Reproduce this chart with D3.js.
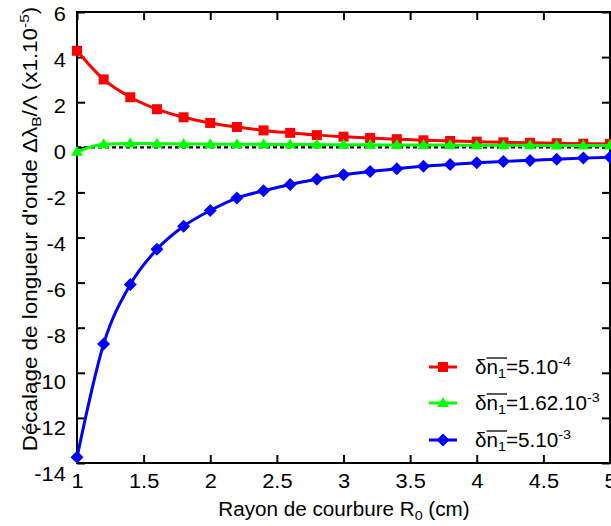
<!DOCTYPE html>
<html>
<head>
<meta charset="utf-8">
<script src="https://cdn.jsdelivr.net/npm/d3@7"></script>
<style>
  html, body { margin: 0; padding: 0; background: #fff; }
  svg { display: block; font-family: "Liberation Sans", Arial, sans-serif; }
</style>
</head>
<body>
<svg id="chart" width="611" height="526"></svg>
<script>
// Bending radius R0 (cm)
const radius = [1, 1.2, 1.4, 1.6, 1.8, 2, 2.2, 2.4, 2.6, 2.8, 3, 3.2, 3.4, 3.6, 3.8, 4, 4.2, 4.4, 4.6, 4.8, 5];

// Relative Bragg wavelength shift (x1e-5) for each index modulation
const shiftLow  = [4.28, 3.01, 2.22, 1.69, 1.33, 1.08, 0.9, 0.75, 0.64, 0.54, 0.47, 0.41, 0.36, 0.31, 0.28, 0.25, 0.22, 0.2, 0.18, 0.16, 0.15];
const shiftMid  = [-0.2, 0.14, 0.17, 0.16, 0.15, 0.14, 0.13, 0.13, 0.12, 0.12, 0.11, 0.11, 0.1, 0.1, 0.1, 0.09, 0.09, 0.09, 0.08, 0.08, 0.08];
const shiftHigh = [-13.75, -8.72, -6.08, -4.52, -3.5, -2.8, -2.25, -1.93, -1.65, -1.42, -1.22, -1.07, -0.95, -0.84, -0.76, -0.69, -0.63, -0.58, -0.53, -0.48, -0.44];

const seriesLabels = ["5.10", "1.62.10", "5.10"];
const seriesExponents = ["-4", "-3", "-3"];
const seriesColors = ["#ff0000", "#00ff00", "#0000ff"];
const seriesShapes = ["square", "triangle", "diamond"];

const xTicks = [1, 1.5, 2, 2.5, 3, 3.5, 4, 4.5, 5];
const yTicks = [-14, -12, -10, -8, -6, -4, -2, 0, 2, 4, 6];

const svg = d3.select("#chart");
const plotLeft = 77, plotRight = 610, plotTop = 12, plotBottom = 463;

const x = d3.scaleLinear().domain([1, 5]).range([plotLeft, plotRight]);
const y = d3.scaleLinear().domain([-14, 6]).range([plotBottom, plotTop]);
// the value labels of the left axis sit on a slightly taller ladder than the ticks
const yLabel = d3.scaleLinear().domain([-14, 6]).range([plotBottom + 11, plotTop + 2]);

const tickLen = 8;
const fontSize = 19.5;
const smallSize = 13.5;
const wide = 1.12;                     // lettering is set slightly extended
const plainNumber = d => String(d);   // plain hyphen for negatives

function styleAxis(g) {
  g.select(".domain").remove();
  g.selectAll(".tick line").attr("stroke", "#000").attr("stroke-width", 2);
  g.selectAll(".tick text").attr("font-size", fontSize).attr("fill", "#000")
    .attr("font-family", "Liberation Sans, Arial, sans-serif");
}

// Ticks point into the plot on all four sides
svg.append("g").attr("transform", `translate(0,${plotBottom})`)
  .call(d3.axisBottom(x).tickValues(xTicks).tickSizeInner(-tickLen).tickSizeOuter(0)
    .tickPadding(tickLen + 3).tickFormat(plainNumber))
  .call(styleAxis)
  .call(g => g.selectAll(".tick text").attr("transform", `scale(${wide},1)`));
svg.append("g").attr("transform", `translate(${plotLeft},0)`)
  .call(d3.axisLeft(y).tickValues(yTicks).tickSizeInner(-tickLen).tickSizeOuter(0).tickFormat(""))
  .call(styleAxis);
svg.append("g").attr("transform", `translate(${plotLeft},0)`)
  .call(d3.axisLeft(yLabel).tickValues(yTicks).tickSize(0).tickPadding(10).tickFormat(plainNumber))
  .call(styleAxis)
  .call(g => g.selectAll(".tick text").attr("transform", `scale(${wide},1)`));
svg.append("g").attr("transform", `translate(0,${plotTop})`)
  .call(d3.axisTop(x).tickValues(xTicks).tickSizeInner(-tickLen).tickSizeOuter(0).tickFormat(""))
  .call(styleAxis);
svg.append("g").attr("transform", `translate(${plotRight},0)`)
  .call(d3.axisRight(y).tickValues(yTicks).tickSizeInner(-tickLen).tickSizeOuter(0).tickFormat(""))
  .call(styleAxis);

// Zero reference line
svg.append("line")
  .attr("x1", x(1)).attr("x2", x(5)).attr("y1", y(0)).attr("y2", y(0))
  .attr("stroke", "#000").attr("stroke-width", 2.2).attr("stroke-dasharray", "4,3");

// Frame
svg.append("rect")
  .attr("x", plotLeft).attr("y", plotTop).attr("width", plotRight - plotLeft).attr("height", plotBottom - plotTop)
  .attr("fill", "none").attr("stroke", "#000").attr("stroke-width", 2);

// Marker shapes
function markerPath(shape) {
  if (shape === "square") return "M-5,-5H5V5H-5Z";
  if (shape === "triangle") return "M0,-6L6,4H-6Z";
  return "M0,-6.5L6.5,0L0,6.5L-6.5,0Z";
}

const line = d3.line().x(d => x(d[0])).y(d => y(d[1])).curve(d3.curveMonotoneX);

const allSeries = [shiftLow, shiftMid, shiftHigh];
allSeries.forEach((vals, i) => {
  const pts = radius.map((r, k) => [r, vals[k]]);
  const g = svg.append("g");
  g.append("path").datum(pts).attr("d", line)
    .attr("fill", "none").attr("stroke", seriesColors[i]).attr("stroke-width", 3);
  g.selectAll("path.mk").data(pts).join("path").attr("class", "mk")
    .attr("transform", d => `translate(${x(d[0])},${y(d[1])})`)
    .attr("d", markerPath(seriesShapes[i]))
    .attr("fill", seriesColors[i]);
});

// Legend
const legendX = 429, legendRows = [367, 403, 440];
seriesLabels.forEach((lab, i) => {
  const ly = legendRows[i];
  svg.append("line").attr("x1", legendX).attr("x2", legendX + 28).attr("y1", ly).attr("y2", ly)
    .attr("stroke", seriesColors[i]).attr("stroke-width", 3);
  svg.append("path").attr("transform", `translate(${legendX + 14},${ly})`)
    .attr("d", markerPath(seriesShapes[i])).attr("fill", seriesColors[i]);
  const lg = svg.append("g").attr("transform", `translate(475,${ly}) scale(1.06,1)`);
  const t = lg.append("text").attr("x", 0).attr("y", 7)
    .attr("font-size", fontSize).attr("fill", "#000");
  t.append("tspan").text("δ");
  t.append("tspan").text("n");
  t.append("tspan").attr("dy", 4).attr("font-size", smallSize).text("1");
  t.append("tspan").attr("dy", -4).text("=" + lab);
  t.append("tspan").attr("dy", -8).attr("font-size", smallSize).text(seriesExponents[i]);
  // overline spanning n and its subscript
  const node = t.node();
  const x0 = node.getStartPositionOfChar(1).x;
  const x1 = node.getEndPositionOfChar(2).x;
  lg.append("line").attr("x1", x0).attr("x2", x1 + 1)
    .attr("y1", -9).attr("y2", -9).attr("stroke", "#000").attr("stroke-width", 1.3);
});

// Axis titles
const xt = svg.append("text").attr("transform", "translate(344,515.5) scale(1.06,1)")
  .attr("text-anchor", "middle").attr("font-size", fontSize).attr("fill", "#000");
xt.append("tspan").text("Rayon de courbure R");
xt.append("tspan").attr("dy", 4).attr("font-size", smallSize).text("0");
xt.append("tspan").attr("dy", -4).text(" (cm)");

const yt = svg.append("text").attr("transform", "translate(37,229) rotate(-90) scale(1.15,1)")
  .attr("text-anchor", "middle").attr("font-size", fontSize).attr("fill", "#000");
yt.append("tspan").text("Décalage de longueur d'onde Δλ");
yt.append("tspan").attr("dy", 4).attr("font-size", smallSize).text("B");
yt.append("tspan").attr("dy", -4).text("/Λ (x1.10");
yt.append("tspan").attr("dy", -8).attr("font-size", smallSize).text("-5");
yt.append("tspan").attr("dy", 8).text(")");
</script>
</body>
</html>
